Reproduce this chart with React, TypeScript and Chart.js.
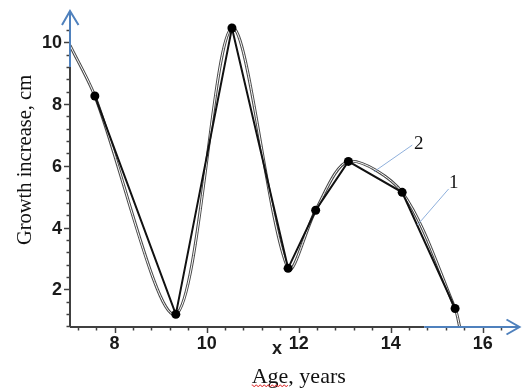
import React, { useEffect, useRef } from "react";
import { Chart, registerables } from "chart.js";

Chart.register(...registerables);

// Measured points (curve 1: broken line through measurements)
const ageMeasured = [7.57, 9.33, 10.55, 11.77, 12.37, 13.08, 14.25, 15.4];
const growthMeasured = [8.26, 1.19, 10.46, 2.68, 4.56, 6.14, 5.14, 1.38];

// Curve 2: smooth approximation
const ageSmooth = [7.03, 7.57, 9.33, 10.55, 11.77, 12.37, 13.08, 14.25, 15.4, 15.5];
const growthSmooth = [9.9, 8.26, 1.19, 10.46, 2.68, 4.56, 6.14, 5.14, 1.38, 0.78];

const xTickLabels = [8, 10, 12, 14, 16];
const yTickLabels = [2, 4, 6, 8, 10];

const X_MIN = 7.03;
const X_MAX = 16.8;
const Y_MIN = 0.78;
const Y_MAX = 11.01;
const X_BLUE_FROM = 14.73;
const Y_BLUE_FROM = 9.2;

// callouts in data space: [label, labelX, labelY, fromX, fromY, toX, toY]
const callouts: [string, number, number, number, number, number, number][] = [
  ["2", 14.61, 6.72, 14.47, 6.67, 13.64, 5.81],
  ["1", 15.37, 5.45, 15.26, 5.25, 14.58, 4.08],
];

const BLUE = "#4f81bd";

const axesPlugin = {
  id: "customAxes",
  afterDatasetsDraw(chart: any) {
    const { ctx, chartArea } = chart;
    const xs = chart.scales.x;
    const ys = chart.scales.y;
    const x0 = chartArea.left;
    const y0 = chartArea.bottom;
    ctx.save();

    // callout leaders
    ctx.strokeStyle = "#8fb0dc";
    ctx.lineWidth = 1;
    ctx.fillStyle = "#111";
    ctx.font = '19px "Liberation Serif", "Times New Roman", serif';
    ctx.textAlign = "center";
    ctx.textBaseline = "middle";
    for (const c of callouts) {
      ctx.beginPath();
      ctx.moveTo(xs.getPixelForValue(c[3]), ys.getPixelForValue(c[4]));
      ctx.lineTo(xs.getPixelForValue(c[5]), ys.getPixelForValue(c[6]));
      ctx.stroke();
      ctx.fillText(c[0], xs.getPixelForValue(c[1]), ys.getPixelForValue(c[2]));
    }

    // ticks
    ctx.strokeStyle = "#404040";
    ctx.lineWidth = 1.5;
    for (let i = 2; i <= 26; i++) {
      const v = i * 0.4;
      const major = Math.abs(v / 2 - Math.round(v / 2)) < 1e-6;
      const py = Math.round(ys.getPixelForValue(v)) + 0.5;
      ctx.beginPath();
      ctx.moveTo(x0 - (major ? 6 : 3.5), py);
      ctx.lineTo(x0, py);
      ctx.stroke();
    }
    for (let i = 18; i <= 41; i++) {
      const v = i * 0.4;
      const major = Math.abs(v / 2 - Math.round(v / 2)) < 1e-6;
      const px = Math.round(xs.getPixelForValue(v)) + 0.5;
      ctx.beginPath();
      ctx.moveTo(px, y0);
      ctx.lineTo(px, y0 + (major ? 6 : 3.5));
      ctx.stroke();
    }

    // axis lines
    ctx.lineWidth = 2;
    ctx.strokeStyle = "#404040";
    const yBlue = ys.getPixelForValue(Y_BLUE_FROM);
    const xBlue = xs.getPixelForValue(X_BLUE_FROM);
    ctx.beginPath();
    ctx.moveTo(x0, y0);
    ctx.lineTo(x0, yBlue);
    ctx.moveTo(x0, y0);
    ctx.lineTo(xBlue, y0);
    ctx.stroke();
    ctx.strokeStyle = BLUE;
    ctx.beginPath();
    ctx.moveTo(x0, yBlue);
    ctx.lineTo(x0, chartArea.top);
    ctx.moveTo(xBlue, y0);
    ctx.lineTo(chartArea.right, y0);
    ctx.stroke();
    // arrowheads
    ctx.beginPath();
    ctx.moveTo(x0 - 8, chartArea.top + 14);
    ctx.lineTo(x0, chartArea.top);
    ctx.lineTo(x0 + 8.5, chartArea.top + 14);
    ctx.moveTo(chartArea.right - 13, y0 - 7.5);
    ctx.lineTo(chartArea.right, y0);
    ctx.lineTo(chartArea.right - 13, y0 + 7.5);
    ctx.stroke();

    // tick labels
    ctx.fillStyle = "#1a1a1a";
    ctx.font = 'bold 18px "Liberation Sans", Arial, sans-serif';
    ctx.textAlign = "right";
    ctx.textBaseline = "middle";
    for (const t of yTickLabels) {
      ctx.fillText(String(t), x0 - 8, ys.getPixelForValue(t) + 1);
    }
    ctx.textAlign = "center";
    for (const t of xTickLabels) {
      ctx.fillText(String(t), xs.getPixelForValue(t), y0 + 17);
    }
    ctx.fillText("x", xs.getPixelForValue(11.53), y0 + 22);

    // titles
    ctx.fillStyle = "#111";
    ctx.font = '22px "Liberation Serif", "Times New Roman", serif';
    ctx.textAlign = "center";
    ctx.textBaseline = "alphabetic";
    const titleX = (x0 + chartArea.right) / 2 + 4;
    ctx.fillText("Age, years", titleX, 383);
    const w = ctx.measureText("Age").width;
    const left = titleX - ctx.measureText("Age, years").width / 2;
    // spell-check squiggle
    ctx.strokeStyle = "#e03030";
    ctx.lineWidth = 1;
    ctx.beginPath();
    for (let px = 0; px <= w; px += 1) {
      const yy = 385 + (Math.floor(px / 2) % 2 === 0 ? 0 : 1.5);
      if (px === 0) ctx.moveTo(left + px, yy);
      else ctx.lineTo(left + px, yy);
    }
    ctx.stroke();

    ctx.font = '20.5px "Liberation Serif", "Times New Roman", serif';
    ctx.translate(31, 160);
    ctx.rotate(-Math.PI / 2);
    ctx.fillText("Growth increase, cm", 0, 0);
    ctx.restore();
  },
};

export default function App() {
  const ref = useRef<HTMLCanvasElement>(null);
  useEffect(() => {
    if (!ref.current) return;
    const smooth = ageSmooth.map((a, i) => ({ x: a, y: growthSmooth[i] }));
    const measured = ageMeasured.map((a, i) => ({ x: a, y: growthMeasured[i] }));
    const chart = new Chart(ref.current, {
      type: "line",
      data: {
        datasets: [
          {
            data: measured,
            borderColor: "#111",
            backgroundColor: "#000",
            borderWidth: 2,
            pointRadius: 4.5,
            pointBorderWidth: 0,
            tension: 0,
            order: 0,
          },
          {
            data: smooth,
            borderColor: "#ffffff",
            borderWidth: 1,
            pointRadius: 0,
            tension: 0.3,
            order: 1,
          },
          {
            data: smooth,
            borderColor: "#4a4a4a",
            borderWidth: 3,
            pointRadius: 0,
            tension: 0.3,
            order: 2,
          },
        ],
      },
      options: {
        responsive: false,
        animation: false,
        layout: { padding: { left: 70, right: 1, top: 11, bottom: 61 } },
        plugins: { legend: { display: false }, tooltip: { enabled: false } },
        scales: {
          x: { type: "linear", min: X_MIN, max: X_MAX, display: false },
          y: { type: "linear", min: Y_MIN, max: Y_MAX, display: false },
        },
      },
      plugins: [axesPlugin],
    });
    return () => chart.destroy();
  }, []);
  return (
    <div style={{ position: "fixed", left: 0, top: 0, width: 524, height: 388, background: "#fff" }}>
      <canvas ref={ref} width={524} height={388} />
    </div>
  );
}
